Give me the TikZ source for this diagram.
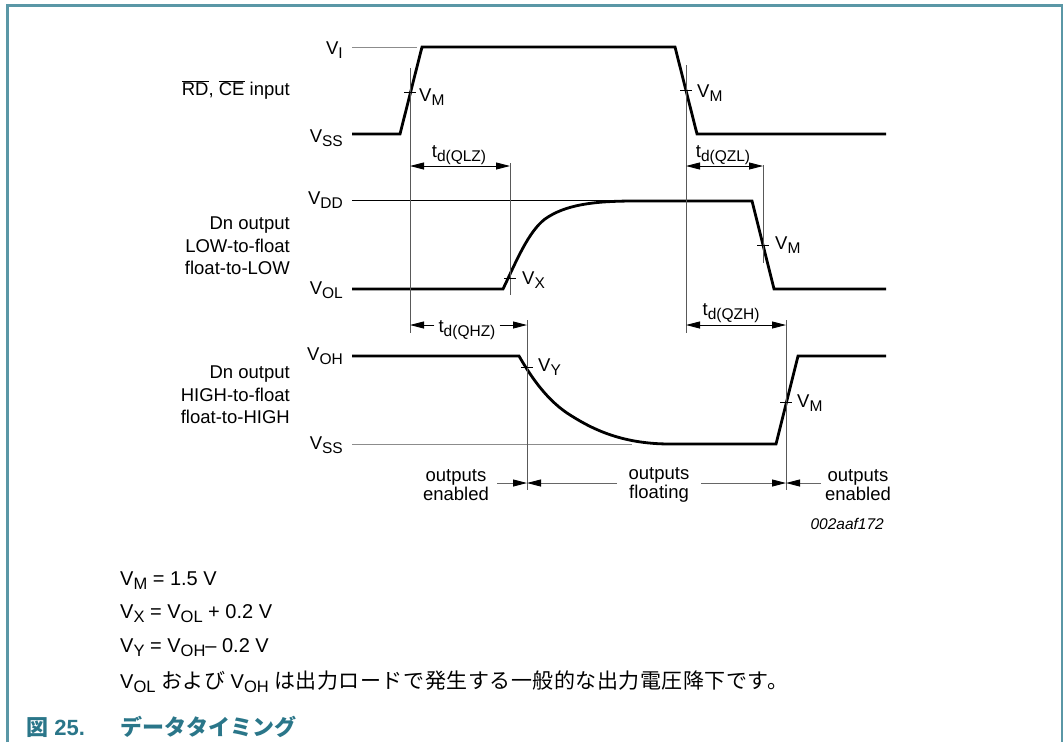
\documentclass[tikz,border=0pt]{standalone}
\usepackage{fontspec}
\setmainfont{Liberation Sans}
\newfontfamily\cjk{Noto Sans CJK JP}
\newfontfamily\cjkn[LetterSpace=2.5]{Noto Sans CJK JP}
\usetikzlibrary{arrows.meta}
\definecolor{frameteal}{HTML}{5A97A6}
\definecolor{capteal}{HTML}{2A7689}
\definecolor{refgray}{HTML}{8C8C8C}
\newcommand\sbs[1]{\raisebox{-4.5pt}{\fontsize{15.5}{15.5}\selectfont #1}}
\newcommand\tsb[1]{\raisebox{-4.5pt}{\fontsize{15.5}{15.5}\selectfont #1}}
\newcommand\nsb[1]{\raisebox{-4.5pt}{\fontsize{16.5}{16.5}\selectfont #1}}
\newcommand\ovl[1]{$\overline{\mbox{#1}}$}
\newcommand\jp[1]{{\fontsize{21}{24}\selectfont\cjkn #1}}
\tikzset{
  lbl/.style={font=\fontsize{18.5}{22.5}\selectfont, inner sep=0pt},
  side/.style={lbl, anchor=east, align=right},
  lvl/.style={lbl, anchor=base east},
  vm/.style={lbl, anchor=base west},
  note/.style={font=\fontsize{20}{24}\selectfont, inner sep=0pt, anchor=base west},
  region/.style={font=\fontsize{18.5}{19}\selectfont, inner sep=0pt, align=center},
  wave/.style={line width=2.8pt, line join=miter, line cap=butt},
  thinblack/.style={line width=0.9pt, black},
  thinref/.style={line width=0.9pt, refgray},
  vline/.style={line width=0.9pt, black!65},
  tickmark/.style={line width=0.9pt, black},
  dimarrow/.style={line width=0.9pt, black, {Triangle[length=14pt,width=7pt]}-{Triangle[length=14pt,width=7pt]}},
  halfarrow/.style={line width=0.9pt, black, -{Triangle[length=14pt,width=7pt]}},
  onearrow/.style={line width=0.9pt, black!60, -{Triangle[length=14pt,width=7pt,color=black,fill=black]}},
  frameline/.style={line width=2.2pt, frameteal}
}
\begin{document}
\begin{tikzpicture}[x=1pt,y=-1pt]
\useasboundingbox (0,0) rectangle (1064,742);
% frame
\draw[frameline] (7.5,742) -- (7.5,5.5) -- (1062,5.5) -- (1062,742);

% ---- input signal
\draw[thinref] (352,47) -- (417,47);
\draw[wave] (352,134) -- (400,134) -- (422,47) -- (675,47) -- (697,134) -- (886,134);
\node[lvl] (vi) at (343,54) {V\sbs{I}};
\node[lvl] (vss1) at (343,142) {V\sbs{SS}};
\node[side] (inlbl) at (290,90) {\ovl{RD}, \ovl{CE} input};

% ---- LOW output
\draw[thinblack] (352,200) -- (627,200);
\draw[wave] (352,289) -- (503,289) .. controls (516,262) and (528,232) .. (545,219)
  .. controls (565,205) and (592,201) .. (635,201) -- (752,201) -- (774,289) -- (886,289);
\node[lvl] (vdd) at (343,204) {V\sbs{DD}};
\node[lvl] (vol) at (343,294) {V\sbs{OL}};
\node[side] (lowlbl) at (290,246) {Dn output\\LOW-to-float\\float-to-LOW};

% ---- HIGH output
\draw[thinref] (352,444) -- (632,444);
\draw[wave] (352,356) -- (519,356) .. controls (530,375) and (545,398) .. (567,413)
  .. controls (590,428) and (620,444) .. (670,444) -- (776,444) -- (798,356) -- (886,356);
\node[lvl] (voh) at (343,360) {V\sbs{OH}};
\node[lvl] (vss2) at (343,449) {V\sbs{SS}};
\node[side] (highlbl) at (290,395) {Dn output\\HIGH-to-float\\float-to-HIGH};

% ---- reference verticals
\coordinate (xa1) at (410,68);  \coordinate (xa2) at (410,333);
\coordinate (xb1) at (686,65);  \coordinate (xb2) at (686,333);
\coordinate (xc1) at (510,163); \coordinate (xc2) at (510,295);
\coordinate (xd1) at (763,165); \coordinate (xd2) at (763,263);
\coordinate (xe1) at (527,320); \coordinate (xe2) at (527,490);
\coordinate (xf1) at (786,320); \coordinate (xf2) at (786,490);
\draw[vline] (xa1) -- (xa2);
\draw[vline] (xb1) -- (xb2);
\draw[vline] (xc1) -- (xc2);
\draw[vline] (xd1) -- (xd2);
\draw[vline] (xe1) -- (xe2);
\draw[vline] (xf1) -- (xf2);

% ---- ticks and threshold labels
\draw[tickmark] (404,92) -- (416,92);
\node[vm] (vm1) at (419,101) {V\sbs{M}};
\draw[tickmark] (680,90) -- (692,90);
\node[vm] (vm2) at (697,97) {V\sbs{M}};
\draw[tickmark] (504,278) -- (516,278);
\node[vm] (vx) at (522,284) {V\sbs{X}};
\draw[tickmark] (757,245) -- (769,245);
\node[vm] (vm3) at (775,249) {V\sbs{M}};
\draw[tickmark] (521,367) -- (533,367);
\node[vm] (vy) at (538,371) {V\sbs{Y}};
\draw[tickmark] (780,402) -- (792,402);
\node[vm] (vm4) at (797,407) {V\sbs{M}};

% ---- timing arrows
\coordinate (qlzA) at (410,166); \coordinate (qlzB) at (510,166);
\draw[dimarrow] (qlzA) -- (qlzB);
\node[lbl, anchor=base] (qlz) at (459,157) {t\tsb{d(QLZ)}};
\coordinate (qzlA) at (686,166); \coordinate (qzlB) at (763,166);
\draw[dimarrow] (qzlA) -- (qzlB);
\node[lbl, anchor=base] (qzl) at (723,157) {t\tsb{d(QZL)}};
\coordinate (qhzA) at (410,325); \coordinate (qhzB) at (527,325);
\node[lbl, anchor=base, inner xsep=4pt] (qhz) at (467,332) {t\tsb{d(QHZ)}};
\draw[halfarrow] (qhz.west |- qhzA) -- (qhzA);
\draw[halfarrow] (qhz.east |- qhzB) -- (qhzB);
\coordinate (qzhA) at (686,325); \coordinate (qzhB) at (786,325);
\draw[dimarrow] (qzhA) -- (qzhB);
\node[lbl, anchor=base] (qzh) at (731,315) {t\tsb{d(QZH)}};

% ---- output state regions
\coordinate (b1) at (497,483); \coordinate (b2) at (527,483);
\coordinate (b3) at (617,483); \coordinate (b4) at (701,483);
\coordinate (b5) at (786,483); \coordinate (b6) at (821,483);
\draw[onearrow] (b1) -- (b2);
\draw[onearrow] (b3) -- (b2);
\draw[onearrow] (b4) -- (b5);
\draw[onearrow] (b6) -- (b5);
\node[region] (en1) at (456,485) {outputs\\enabled};
\node[region] (flt) at (659,485) {outputs\\floating};
\node[region] (en2) at (858,485) {outputs\\enabled};
\node[inner sep=0pt, anchor=base east, font=\fontsize{15.5}{16}\selectfont\itshape] (code) at (884,529) {002aaf172};

% ---- notes
\node[note] (n1) at (120,585) {V\nsb{M} = 1.5 V};
\node[note] (n2) at (120,618) {V\nsb{X} = V\nsb{OL} + 0.2 V};
\node[note] (n3) at (120,652) {V\nsb{Y} = V\nsb{OH}\textendash\ 0.2 V};
\node[note] (n4) at (120,688) {V\nsb{OL} \jp{および} V\nsb{OH} \jp{は出力ロードで発生する一般的な出力電圧降下です。}};

% ---- caption
\node[inner sep=0pt, anchor=base west, text=capteal, font=\fontsize{22}{24}\selectfont\bfseries] (capnum) at (26,735) {{\cjk 図} 25.};
\node[inner sep=0pt, anchor=base west, text=capteal, font=\fontsize{22}{24}\selectfont\bfseries] (captxt) at (120,735) {\cjk データタイミング};
\end{tikzpicture}
\end{document}
